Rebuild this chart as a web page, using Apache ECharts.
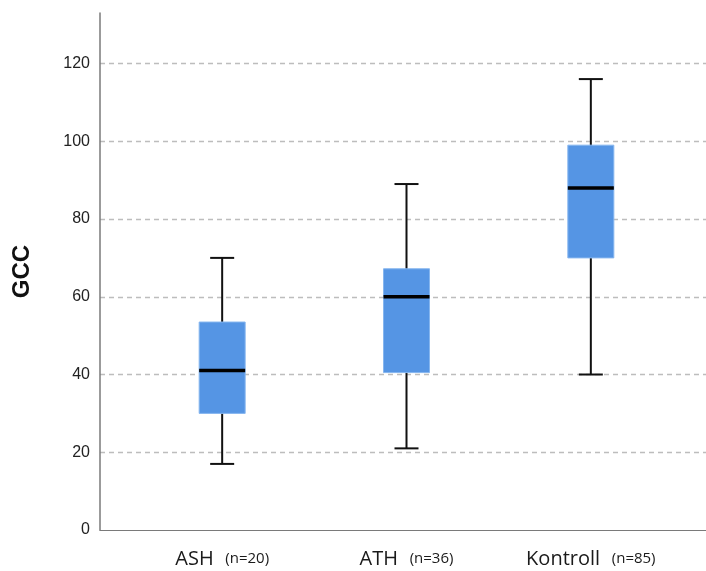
<!DOCTYPE html>
<html>
<head>
<meta charset="utf-8">
<script src="https://cdn.jsdelivr.net/npm/echarts@6/dist/echarts.min.js"></script>
<style>html,body{margin:0;padding:0;background:#fff;}#c{width:706px;height:571px;}</style>
</head>
<body>
<div id="c"></div>
<script>
const categories = ['ASH', 'ATH', 'Kontroll'];
const sampleSizes = [20, 36, 85];
const whiskerLow = [17, 21, 40];
const q1 = [30, 40.5, 70];
const median = [41, 60, 88];
const q3 = [53.5, 67.2, 99];
const whiskerHigh = [70, 89, 116];
const yTicks = [0, 20, 40, 60, 80, 100, 120];

const boxData = categories.map((c, i) => [i, whiskerLow[i], q1[i], median[i], q3[i], whiskerHigh[i]]);

const chart = echarts.init(document.getElementById('c'));
const BOX_W = 46, CAP_W = 24;
const option = {
  backgroundColor: '#fff',
  animation: false,
  grid: [
    { left: 100, right: 0, top: 13, bottom: 41 },
    { left: 130, right: 23, top: 13, bottom: 41 }
  ],
  xAxis: [
    { gridIndex: 0, type: 'value', min: 0, max: 1, axisLine: { show: true, lineStyle: { color: '#7a7a7a', width: 1.2 } },
      axisTick: { show: false }, axisLabel: { show: false }, splitLine: { show: false } },
    { gridIndex: 1, type: 'category', data: categories,
      axisLine: { show: false }, axisTick: { show: false },
      axisLabel: {
        margin: 19,
        formatter: function (v, i) { return '{a|' + v + '}  {b|(n=' + sampleSizes[i] + ')}'; },
        rich: {
          a: { fontFamily: 'Open Sans', fontSize: 20, color: '#1a1a1a' },
          b: { fontFamily: 'Open Sans', fontSize: 15, color: '#1a1a1a', padding: [0, 0, 0, 5] }
        }
      } }
  ],
  yAxis: [
    { gridIndex: 0, type: 'value', min: 0, max: 133, interval: 20,
      name: 'GCC', nameLocation: 'middle', nameGap: 66,
      nameTextStyle: { fontFamily: 'Liberation Sans', fontWeight: 'bold', fontSize: 24, color: '#111' },
      axisLine: { show: true, lineStyle: { color: '#7a7a7a', width: 1.5 } },
      axisTick: { show: false },
      axisLabel: { margin: 10, fontFamily: 'Liberation Sans', fontSize: 16, color: '#222', showMaxLabel: false,
        padding: [9, 0, 0, 0],
        formatter: function (v) { return yTicks.indexOf(v) >= 0 ? String(v) : ''; } },
      splitLine: { show: true, showMinLine: false, showMaxLine: false, lineStyle: { color: '#bdbdbd', type: [5, 4], width: 1.3 } } },
    { gridIndex: 1, type: 'value', min: 0, max: 133, show: false, splitLine: { show: false } }
  ],
  series: [{
    type: 'custom',
    xAxisIndex: 1, yAxisIndex: 1,
    data: boxData,
    encode: { x: 0, y: [1, 2, 3, 4, 5] },
    renderItem: function (params, api) {
      const x = api.value(0);
      const pLow = api.coord([x, api.value(1)]);
      const pQ1 = api.coord([x, api.value(2)]);
      const pMed = api.coord([x, api.value(3)]);
      const pQ3 = api.coord([x, api.value(4)]);
      const pHigh = api.coord([x, api.value(5)]);
      const cx = pMed[0];
      const line = { stroke: '#111', lineWidth: 2 };
      return {
        type: 'group',
        children: [
          { type: 'line', shape: { x1: cx, y1: pHigh[1], x2: cx, y2: pLow[1] }, style: line },
          { type: 'line', shape: { x1: cx - CAP_W / 2, y1: pHigh[1], x2: cx + CAP_W / 2, y2: pHigh[1] }, style: line },
          { type: 'line', shape: { x1: cx - CAP_W / 2, y1: pLow[1], x2: cx + CAP_W / 2, y2: pLow[1] }, style: line },
          { type: 'rect', shape: { x: cx - BOX_W / 2, y: pQ3[1], width: BOX_W, height: pQ1[1] - pQ3[1] },
            style: { fill: '#5595e4', stroke: '#86b6ef', lineWidth: 1 } },
          { type: 'line', shape: { x1: cx - BOX_W / 2, y1: pMed[1], x2: cx + BOX_W / 2, y2: pMed[1] },
            style: { stroke: '#000', lineWidth: 3.5 } }
        ]
      };
    }
  }]
};
chart.setOption(option);
</script>
</body>
</html>
